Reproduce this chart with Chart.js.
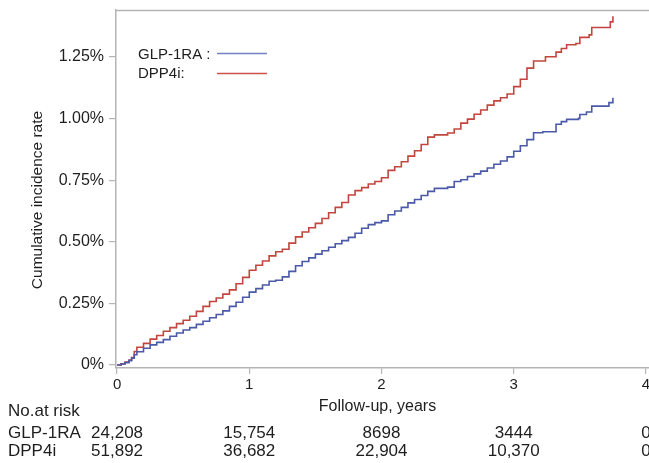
<!DOCTYPE html>
<html>
<head>
<meta charset="utf-8">
<script src="https://cdn.jsdelivr.net/npm/chart.js@4.4.0/dist/chart.umd.min.js"></script>
<style>
    html, body { margin: 0; padding: 0; background: #fff; }
    #wrap { width: 649px; height: 463px; }
</style>
</head>
<body>
<div id="wrap"><canvas id="mychart" width="649" height="463"></canvas></div>
<script>
// series (years, cumulative incidence in %)
var glpTime = [0, 0.03, 0.06, 0.09, 0.11, 0.13, 0.15,
    0.2, 0.25, 0.3, 0.35, 0.4, 0.45, 0.5, 0.55, 0.6, 0.65,
    0.7, 0.75, 0.8, 0.85, 0.9, 0.95, 1.0, 1.05, 1.1, 1.15,
    1.2, 1.25, 1.3, 1.35, 1.4, 1.45, 1.5, 1.55, 1.6, 1.65,
    1.7, 1.75, 1.8, 1.85, 1.9, 1.95, 2.0, 2.05, 2.1, 2.15,
    2.2, 2.25, 2.3, 2.35, 2.4,
    2.5, 2.55, 2.6, 2.65, 2.7, 2.75, 2.8, 2.85, 2.9, 2.95, 3.0, 3.05, 3.1, 3.15,
    3.22, 3.32, 3.36, 3.4, 3.49, 3.5, 3.55, 3.59, 3.72, 3.75];
var glpRate = [0, 0.004, 0.01, 0.018, 0.028, 0.042, 0.054,
    0.068, 0.082, 0.092, 0.103, 0.117, 0.13, 0.142, 0.152, 0.165, 0.178,
    0.192, 0.205, 0.22, 0.238, 0.255, 0.275, 0.296, 0.31, 0.325, 0.34,
    0.344, 0.358, 0.38, 0.403, 0.42, 0.435, 0.45, 0.464, 0.478, 0.492,
    0.505, 0.518, 0.535, 0.555, 0.57, 0.578, 0.585, 0.61, 0.625, 0.64,
    0.658, 0.672, 0.688, 0.705, 0.717,
    0.722, 0.745, 0.752, 0.765, 0.776, 0.787, 0.80, 0.815, 0.828, 0.845, 0.868, 0.89, 0.915, 0.943,
    0.947, 0.977, 0.988, 0.997, 1.001, 1.017, 1.027, 1.051, 1.065, 1.085];

var dppTime = [0, 0.03, 0.06, 0.09, 0.11, 0.13, 0.15,
    0.2, 0.25, 0.3, 0.35, 0.4, 0.45, 0.5, 0.55, 0.6, 0.65,
    0.7, 0.75, 0.8, 0.85, 0.9, 0.95, 1.0, 1.05, 1.1, 1.15,
    1.2, 1.25, 1.3, 1.35, 1.4, 1.45, 1.5, 1.55, 1.6, 1.65,
    1.7, 1.75, 1.8, 1.85, 1.9, 1.95, 2.0, 2.05, 2.1, 2.15,
    2.2, 2.25, 2.3, 2.35, 2.4,
    2.5, 2.55, 2.6, 2.65, 2.7, 2.75, 2.8, 2.85, 2.9, 2.95, 3.0, 3.05, 3.1, 3.15,
    3.24, 3.32, 3.36, 3.4, 3.47, 3.5, 3.57, 3.59, 3.73, 3.75];
var dppRate = [0, 0.005, 0.012, 0.02, 0.03, 0.055, 0.072,
    0.088, 0.105, 0.12, 0.137, 0.152, 0.168, 0.182, 0.198, 0.218, 0.238,
    0.258, 0.272, 0.288, 0.305, 0.33, 0.356, 0.385, 0.405, 0.422, 0.443,
    0.46, 0.47, 0.495, 0.52, 0.54, 0.557, 0.575, 0.595, 0.618, 0.64,
    0.66, 0.69, 0.708, 0.72, 0.735, 0.745, 0.76, 0.79, 0.805, 0.825,
    0.848, 0.87, 0.895, 0.925, 0.934,
    0.942, 0.958, 0.982, 0.998, 1.018, 1.035, 1.055, 1.072, 1.085, 1.10, 1.13, 1.16, 1.205, 1.234,
    1.251, 1.27, 1.285, 1.30, 1.305, 1.33, 1.34, 1.37, 1.393, 1.416];

var groupNames = ['GLP-1RA', 'DPP4i'];
var xTicks = [0, 1, 2, 3, 4];
var yTicks = [0, 0.25, 0.5, 0.75, 1, 1.25];
var yTickLabels = ['0%', '0.25%', '0.50%', '0.75%', '1.00%', '1.25%'];

// number at risk table
var riskTimes = [0, 1, 2, 3, 4];
var glpAtRisk = ['24,208', '15,754', '8698', '3444', '0'];
var dppAtRisk = ['51,892', '36,682', '22,904', '10,370', '0'];

var FONT = '"Liberation Sans", Arial, sans-serif';
var AXIS_GREY = '#b4b4b4';
var TEXT = '#1e1e1e';
var BLUE = '#4a5aa8';
var RED = '#c2463e';

function toPoints(xs, ys) {
    return xs.map(function (x, i) { return { x: x, y: ys[i] }; });
}

// legend, titles and risk table drawn on top
var extras = {
    id: 'extras',
    afterDraw: function (chart) {
        var ctx = chart.ctx;
        var area = chart.chartArea;
        var xs = chart.scales.x;
        ctx.save();

        // top frame line
        ctx.strokeStyle = AXIS_GREY;
        ctx.lineWidth = 1.5;
        ctx.beginPath();
        ctx.moveTo(area.left, area.top + 0.5);
        ctx.lineTo(area.right, area.top + 0.5);
        ctx.stroke();

        // legend
        ctx.fillStyle = TEXT;
        ctx.font = '15px ' + FONT;
        ctx.textAlign = 'left';
        ctx.textBaseline = 'alphabetic';
        ctx.fillText(groupNames[0] + ' :', 138, 59);
        ctx.fillText(groupNames[1] + ':', 138, 78);
        ctx.lineWidth = 1.3;
        ctx.strokeStyle = '#7283c4';
        ctx.beginPath(); ctx.moveTo(217, 53.5); ctx.lineTo(267, 53.5); ctx.stroke();
        ctx.strokeStyle = '#cf5048';
        ctx.beginPath(); ctx.moveTo(217, 73.5); ctx.lineTo(267, 73.5); ctx.stroke();

        // y title
        ctx.save();
        ctx.translate(38, 200);
        ctx.rotate(-Math.PI / 2);
        ctx.font = '15.5px ' + FONT;
        ctx.textAlign = 'center';
        ctx.textBaseline = 'middle';
        ctx.fillText('Cumulative incidence rate', 0, 0);
        ctx.restore();

        // x title
        ctx.font = '16px ' + FONT;
        ctx.textAlign = 'center';
        ctx.textBaseline = 'middle';
        ctx.fillText('Follow-up, years', xs.getPixelForValue(2) - 4, 407);

        // risk table
        ctx.font = '17px ' + FONT;
        ctx.textAlign = 'left';
        ctx.textBaseline = 'alphabetic';
        ctx.fillText('No.at risk', 8, 416);
        ctx.fillText(groupNames[0], 8, 438);
        ctx.fillText(groupNames[1], 8, 456);
        ctx.textAlign = 'center';
        riskTimes.forEach(function (t, i) {
            var px = xs.getPixelForValue(t);
            ctx.fillText(glpAtRisk[i], px, 438);
            ctx.fillText(dppAtRisk[i], px, 456);
        });

        ctx.restore();
    }
};

var ctx = document.getElementById('mychart').getContext('2d');
var mychart = new Chart(ctx, {
    type: 'line',
    data: {
        datasets: [{
            label: groupNames[0],
            data: toPoints(glpTime, glpRate),
            borderColor: BLUE,
            borderWidth: 1.6,
            stepped: true,
            pointRadius: 0,
            fill: false
        }, {
            label: groupNames[1],
            data: toPoints(dppTime, dppRate),
            borderColor: RED,
            borderWidth: 1.6,
            stepped: true,
            pointRadius: 0,
            fill: false
        }]
    },
    options: {
        responsive: false,
        animation: false,
        devicePixelRatio: 1,
        layout: { padding: { top: 10, left: 0, right: 0, bottom: 0 } },
        plugins: {
            legend: { display: false },
            tooltip: { enabled: false }
        },
        scales: {
            x: {
                type: 'linear',
                min: -0.008,
                max: 4.023,
                afterBuildTicks: function (s) {
                    s.ticks = xTicks.map(function (v) { return { value: v }; });
                },
                afterFit: function (s) {
                    s.height = 95;
                    s.paddingLeft = 0; s.paddingRight = 0;
                },
                ticks: {
                    color: TEXT,
                    font: { size: 15, family: FONT },
                    padding: 2,
                    maxRotation: 0,
                    callback: function (v) { return String(v); }
                },
                grid: { drawOnChartArea: false, drawTicks: true, tickLength: 6, color: AXIS_GREY, lineWidth: 1.2 },
                border: { display: true, color: AXIS_GREY, width: 1.5 }
            },
            y: {
                type: 'linear',
                min: -0.012,
                max: 1.441,
                afterBuildTicks: function (s) {
                    s.ticks = yTicks.map(function (v) { return { value: v }; });
                },
                afterFit: function (s) {
                    s.width = 116;
                    s.paddingTop = 0; s.paddingBottom = 0;
                },
                ticks: {
                    color: TEXT,
                    font: { size: 16, family: FONT },
                    padding: 5,
                    callback: function (v) { return yTickLabels[yTicks.indexOf(v)]; }
                },
                grid: { drawOnChartArea: false, drawTicks: true, tickLength: 7, color: AXIS_GREY, lineWidth: 1.2 },
                border: { display: true, color: AXIS_GREY, width: 1.5 }
            }
        }
    },
    plugins: [extras]
});
</script>
</body>
</html>
